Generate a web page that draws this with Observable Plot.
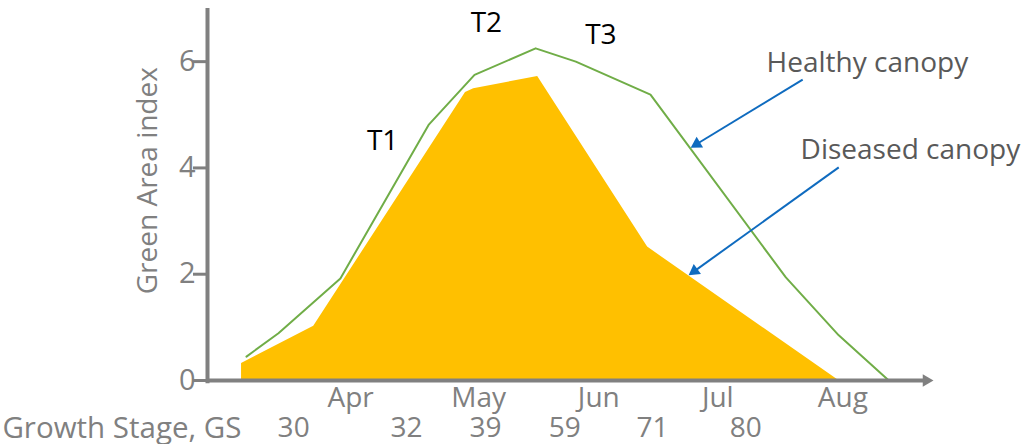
<!DOCTYPE html>
<html>
<head>
<meta charset="utf-8">
<script src="https://cdn.jsdelivr.net/npm/d3@7"></script>
<script src="https://cdn.jsdelivr.net/npm/@observablehq/plot@0.6"></script>
<style>
  html, body { margin: 0; padding: 0; background: #fff; }
  #chart { width: 1025px; height: 444px; overflow: hidden; }
</style>
</head>
<body>
<div id="chart"></div>
<script>
// ---- data (x in days from axis origin, y = Green Area index) ----
const healthyDay = [9.5, 17.3, 32.4, 53.9, 65.1, 80.0, 89.8, 108.0, 141.0, 153.9, 166.1];
const healthyGAI = [0.45, 0.89, 1.92, 4.81, 5.75, 6.25, 6.0, 5.38, 1.94, 0.85, 0];

const diseasedDay = [8.3, 25.9, 62.9, 64.9, 80.5, 107.3, 153.9];
const diseasedGAI = [0.32, 1.02, 5.42, 5.49, 5.72, 2.51, 0];

const yTicks = [0, 2, 4, 6];

const months = ["Apr", "May", "Jun", "Jul", "Aug"];
const monthDay = [34.9, 66.1, 95.4, 124.4, 154.9];

const gsStages = ["30", "32", "39", "59", "71", "80"];
const gsDay = [21.0, 48.5, 67.8, 87.1, 108.5, 131.2];

const sprayLabels = ["T1", "T2", "T3"];
const sprayDay = [42.7, 68.0, 95.9];
const sprayGAI = [4.50, 6.72, 6.51];

const noteLabels = ["Healthy canopy", "Diseased canopy"];
const noteDay = [136.3, 144.6];
const noteGAI = [5.97, 4.33];

// annotation arrows: tail -> head
const arrowTailDay = [145.1, 153.9];
const arrowTailGAI = [5.66, 4.01];
const arrowHeadDay = [117.8, 117.3];
const arrowHeadGAI = [4.38, 1.98];

// ---- layout ----
const W = 1025, H = 444;
const mL = 207, mR = 92, mT = 8, mB = 64;
const xDomain = [0, 177], yDomain = [0, 7];
const kx = (W - mL - mR) / (xDomain[1] - xDomain[0]);
const ky = (H - mT - mB) / (yDomain[1] - yDomain[0]);

const healthy = healthyDay.map((d, i) => ({day: d, gai: healthyGAI[i]}));
const diseased = diseasedDay.map((d, i) => ({day: d, gai: diseasedGAI[i]}));

// arrows: compute screen angle and triangle centre (tip at head)
const triR = 4.6;
const triTip = 2 * Math.sqrt((triR * triR * Math.PI) / (Math.sqrt(3) * 3));
const arrows = arrowTailDay.map((d, i) => {
  const dxp = (arrowHeadDay[i] - d) * kx;
  const dyp = -(arrowHeadGAI[i] - arrowTailGAI[i]) * ky;
  const len = Math.hypot(dxp, dyp);
  const ux = dxp / len, uy = dyp / len;
  const ang = Math.atan2(dyp, dxp) * 180 / Math.PI;
  const cx = arrowHeadDay[i] - ux * triTip / kx;
  const cy = arrowHeadGAI[i] + uy * triTip / ky;
  return {x1: d, y1: arrowTailGAI[i], x2: cx, y2: cy, rot: ang + 90};
});

const axisGray = "#808080";
const FONT = "Open Sans";

const arrowCentreDay = xDomain[1] - triTip / kx;

const chart = Plot.plot({
  width: W,
  height: H,
  marginLeft: mL,
  marginRight: mR,
  marginTop: mT,
  marginBottom: mB,
  x: {domain: xDomain, axis: null},
  y: {domain: yDomain, axis: null},
  style: {fontFamily: FONT, background: "#fff", overflow: "visible"},
  marks: [
    // diseased canopy area
    Plot.areaY(diseased, {x: "day", y: "gai", fill: "#FFC000", curve: "linear"}),
    // healthy canopy line
    Plot.line(healthy, {x: "day", y: "gai", stroke: "#70AD47", strokeWidth: 2, curve: "linear"}),
    // axes lines
    Plot.ruleX([0], {y1: -0.06, y2: 7, stroke: axisGray, strokeWidth: 4}),
    Plot.ruleY([0], {x1: 0, x2: arrowCentreDay, stroke: axisGray, strokeWidth: 4}),
    Plot.dot([0], {x: arrowCentreDay, y: 0, symbol: "triangle", r: triR, fill: axisGray, stroke: null, rotate: 90}),
    Plot.axisY({ticks: yTicks, tickFormat: d => String(d), tickSize: 14, tickPadding: -2, strokeWidth: 3, stroke: axisGray, fill: axisGray, fontSize: 29, label: null}),
    // y label
    Plot.text(["Green Area index"], {x: -14.4, y: 3.76, rotate: -90, fill: axisGray, fontSize: 28}),
    // month labels
    Plot.text(months, {x: monthDay, y: 0, dy: 18, fill: axisGray, fontSize: 28}),
    // growth stage labels
    Plot.text(["Growth Stage, GS"], {x: -50, y: 0, dy: 48, textAnchor: "start", fill: axisGray, fontSize: 29.5}),
    Plot.text(gsStages, {x: gsDay, y: 0, dy: 48, fill: axisGray, fontSize: 28}),
    // spray timings
    Plot.text(sprayLabels, {x: sprayDay, y: sprayGAI, fill: "#000", fontSize: 28}),
    // annotations
    Plot.text(noteLabels, {x: noteDay, y: noteGAI, textAnchor: "start", fill: "#595959", fontSize: 28}),
    Plot.link(arrows, {x1: "x1", y1: "y1", x2: "x2", y2: "y2", stroke: "#0F6BBF", strokeWidth: 2}),
    Plot.dot(arrows, {x: "x2", y: "y2", symbol: "triangle", r: triR, fill: "#0F6BBF", stroke: null, rotate: "rot"})
  ]
});
document.getElementById("chart").appendChild(chart);
</script>
</body>
</html>
